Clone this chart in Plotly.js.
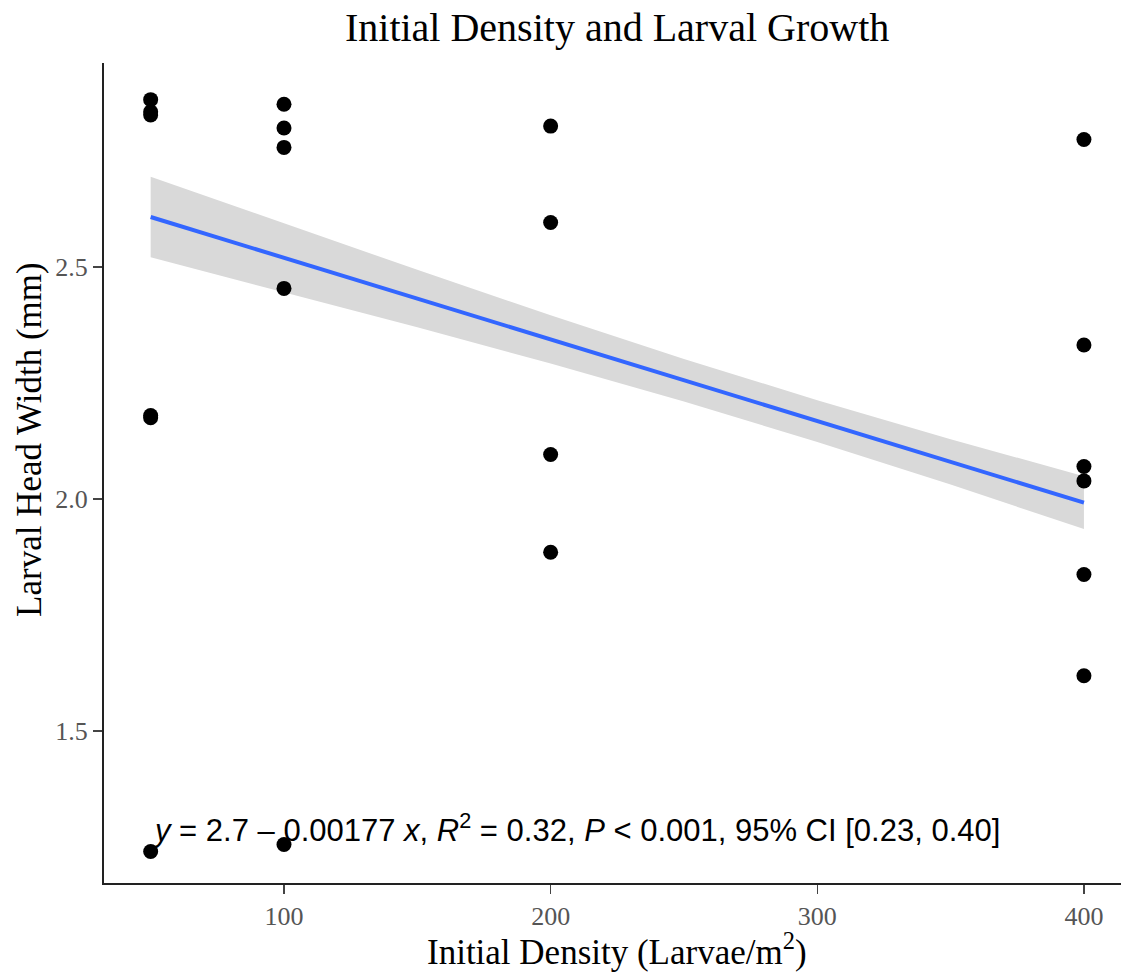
<!DOCTYPE html>
<html>
<head>
<meta charset="utf-8">
<script src="https://cdn.plot.ly/plotly-3.0.1.min.js"></script>
<style>html,body{margin:0;padding:0;background:#fff;}#chart{width:1121px;height:974px;}</style>
</head>
<body>
<div id="chart"></div>
<script>
// Observed points
const densityX = [50, 50, 50, 50, 50, 50,
                  100, 100, 100, 100, 100,
                  200, 200, 200, 200,
                  400, 400, 400, 400, 400, 400];
const headWidthY = [2.861, 2.835, 2.828, 2.180, 2.175, 1.240,
                    2.851, 2.800, 2.758, 2.454, 1.255,
                    2.804, 2.596, 2.096, 1.885,
                    2.775, 2.332, 2.070, 2.039, 1.837, 1.619];

// Fitted line and 95% confidence band
const fitX = [50, 100, 150, 200, 250, 300, 350, 400];
const fitY = [2.608, 2.520, 2.432, 2.344, 2.256, 2.168, 2.080, 1.992];
const bandUpper = [2.695, 2.594, 2.494, 2.396, 2.302, 2.213, 2.129, 2.049];
const bandLower = [2.521, 2.446, 2.370, 2.292, 2.210, 2.123, 2.031, 1.935];

const xTicks = [100, 200, 300, 400];
const yTicks = [1.5, 2.0, 2.5];
const yTickText = ["1.5", "2.0", "2.5"];

const titleText = "Initial Density and Larval Growth";
const xTitle = "Initial Density (Larvae/m<sup>2</sup>)";
const yTitle = "Larval Head Width (mm)";
const eqText = "<i>y</i> = 2.7 \u2013 0.00177 <i>x</i>, <i>R</i><sup>2</sup> = 0.32, <i>P</i> &lt; 0.001, 95% CI [0.23, 0.40]";

const serif = "Liberation Serif, Times New Roman, serif";

const traces = [
  {x: fitX, y: bandLower, type: 'scatter', mode: 'lines', line: {width: 0}, hoverinfo: 'skip', showlegend: false},
  {x: fitX, y: bandUpper, type: 'scatter', mode: 'lines', line: {width: 0}, fill: 'tonexty', fillcolor: 'rgb(217,217,217)', hoverinfo: 'skip', showlegend: false},
  {x: fitX, y: fitY, type: 'scatter', mode: 'lines', line: {color: '#3366FF', width: 4}, showlegend: false},
  {x: densityX, y: headWidthY, type: 'scatter', mode: 'markers', marker: {color: '#000', size: 15}, showlegend: false}
];

const layout = {
  width: 1121, height: 974,
  margin: {l: 104, r: 0, t: 63, b: 91},
  paper_bgcolor: '#fff', plot_bgcolor: '#fff',
  title: {text: titleText, font: {family: serif, size: 40, color: '#000'}, xref: 'container', x: 0.5505, xanchor: 'center', yref: 'container', y: 0.972, yanchor: 'middle'},
  xaxis: {
    range: [32.5, 413.9], tickvals: xTicks, ticktext: xTicks.map(String),
    showgrid: false, zeroline: false, showline: true, linecolor: '#222', linewidth: 2,
    ticks: 'outside', ticklen: 9, tickwidth: 1.5, tickcolor: '#444',
    tickfont: {family: serif, size: 26, color: '#555'}
  },
  yaxis: {
    range: [1.172, 2.94], tickvals: yTicks, ticktext: yTickText,
    showgrid: false, zeroline: false, showline: true, linecolor: '#222', linewidth: 2,
    ticks: 'outside', ticklen: 9, tickwidth: 1.5, tickcolor: '#444',
    tickfont: {family: serif, size: 26, color: '#555'}
  },
  annotations: [
    {
      x: 50, y: 1.291, xref: 'x', yref: 'y', xanchor: 'left', yanchor: 'middle',
      text: eqText, showarrow: false,
      font: {family: 'Liberation Sans, Arial, sans-serif', size: 31, color: '#000'}
    },
    {
      x: 0.5044, y: -0.0817, xref: 'paper', yref: 'paper', xanchor: 'center', yanchor: 'middle',
      text: xTitle, showarrow: false,
      font: {family: serif, size: 35, color: '#000'}
    },
    {
      x: -0.0728, y: 0.5415, xref: 'paper', yref: 'paper', xanchor: 'center', yanchor: 'middle',
      text: yTitle, showarrow: false, textangle: -90,
      font: {family: serif, size: 35, color: '#000'}
    }
  ]
};

Plotly.newPlot('chart', traces, layout, {displayModeBar: false, staticPlot: true});
</script>
</body>
</html>
